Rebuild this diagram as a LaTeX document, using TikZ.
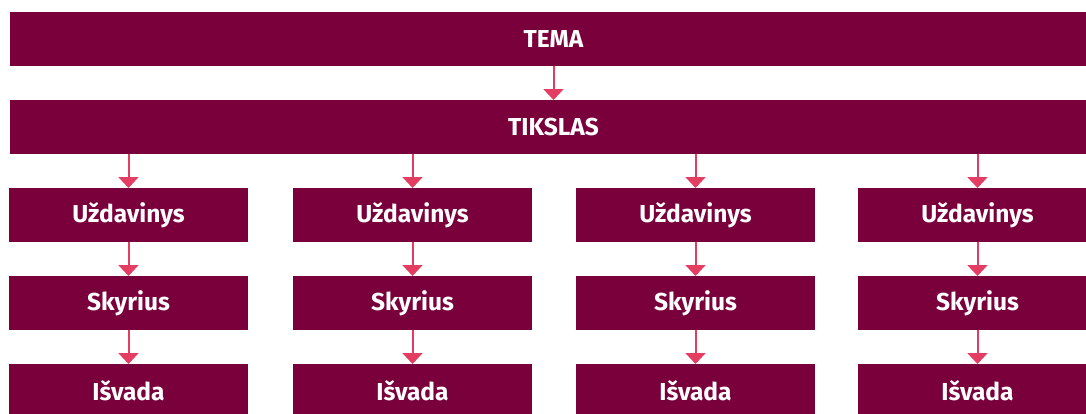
\documentclass[tikz,border=0pt]{standalone}
\usepackage{fontspec}
\setmainfont{Fira Sans}
\usepackage{xcolor}
\usetikzlibrary{positioning}
\usetikzlibrary{arrows.meta}
\definecolor{plum}{HTML}{7A003C}
\definecolor{rose}{HTML}{E33E62}

\begin{document}
\begin{tikzpicture}[x=1pt,y=-1pt,
		box/.style={fill=plum,text=white,font=\bfseries\fontsize{24.5}{28}\selectfont,
			minimum height=54pt,inner sep=0pt,outer sep=0pt},
		colbox/.style={box,minimum width=239pt},
		link/.style={rose,line width=2pt,-{Triangle[width=20pt,length=11pt]}},
		node distance=34pt]
	\useasboundingbox (0,0) rectangle (1086,413);
	\clip (0,0) rectangle (1086,413);
	\node[box,minimum width=1087pt] (tema) at (553.5,39) {TEMA};
	\node[box,minimum width=1087pt,below=of tema] (tikslas) {TIKSLAS};
	\draw[link] (tema) -- (tikslas);
	\foreach \i/\x in {1/128.5,2/412.5,3/695.5,4/977.5} {
		\node[colbox] (uzd\i) at (\x,215) {Uždavinys};
		\node[colbox,below=of uzd\i] (sky\i) {Skyrius};
		\node[colbox,below=of sky\i] (isv\i) {Išvada};
		\draw[link] (tikslas.south -| uzd\i) -- (uzd\i);
		\draw[link] (uzd\i) -- (sky\i);
		\draw[link] (sky\i) -- (isv\i);
	}
\end{tikzpicture}
\end{document}
